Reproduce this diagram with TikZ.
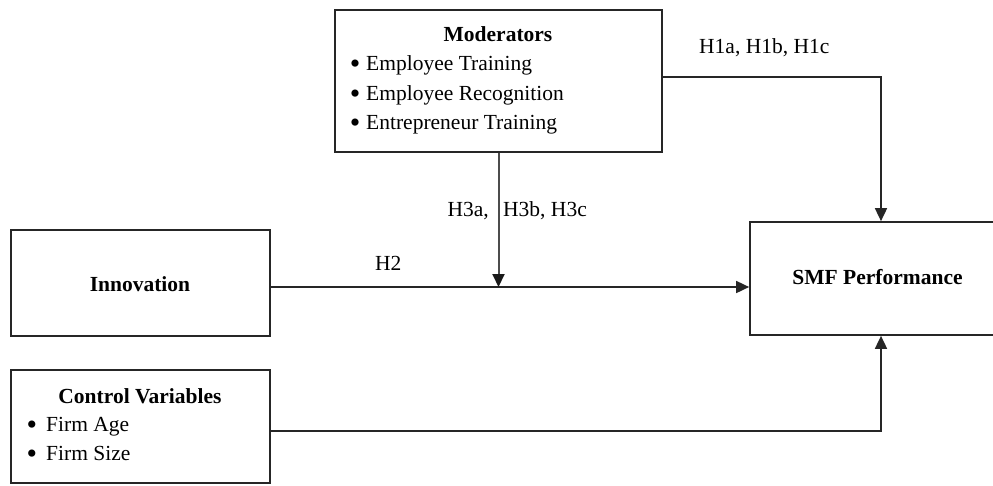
\documentclass[tikz,border=0pt]{standalone}
\usepackage{fontspec}
\setmainfont{Liberation Serif}
\usetikzlibrary{arrows.meta}
\newcommand{\bul}{\makebox[0pt][c]{\fontsize{30pt}{30pt}\selectfont\raisebox{-0.1em}{•}}}
\begin{document}
\begin{tikzpicture}[x=1pt,y=-1pt,
  box/.style={draw=black!85,line width=1.7pt,rectangle,inner sep=0pt},
  txt/.style={inner sep=0pt,font=\fontsize{21.5pt}{26pt}\selectfont},
  btxt/.style={txt,font=\fontsize{21.5pt}{26pt}\selectfont\bfseries},
  conn/.style={draw=black!85,line width=1.7pt,-{Triangle[length=13pt,width=12pt]}},
  thin/.style={draw=black!70,line width=2pt,-{Triangle[length=13pt,width=12pt,color=black!90]}},
  dot/.style={inner sep=0pt}]
\clip (0,0) rectangle (993,485);
\fill[white] (0,0) rectangle (993,485);
% boxes
\node[box,minimum width=327pt,minimum height=142pt] (mod) at (498.5,81) {};
\node[box,minimum width=259pt,minimum height=106pt] (inn) at (140.5,283) {};
\node[box,minimum width=259pt,minimum height=113pt] (ctl) at (140.5,426.5) {};
\node[box,minimum width=254pt,minimum height=113pt] (smf) at (877,278.5) {};
% texts
\node[btxt,anchor=base] (modt) at (498,41) {Moderators};
\node[dot,anchor=base] (b1) at (355,70) {\bul};
\node[dot,anchor=base] (b2) at (355,100) {\bul};
\node[dot,anchor=base] (b3) at (355,129) {\bul};
\node[txt,anchor=base west] (m1) at (366,70) {Employee Training};
\node[txt,anchor=base west] (m2) at (366,100) {Employee Recognition};
\node[txt,anchor=base west] (m3) at (366,129) {Entrepreneur Training};
\node[btxt] (innt) at (140,284) {Innovation};
\node[btxt,anchor=base] (ctlt) at (140,403) {Control Variables};
\node[dot,anchor=base] (b4) at (32,431) {\bul};
\node[dot,anchor=base] (b5) at (32,460) {\bul};
\node[txt,anchor=base west] (c1) at (46,431) {Firm Age};
\node[txt,anchor=base west] (c2) at (46,460) {Firm Size};
\node[btxt] (smft) at (877.5,277) {SMF Performance};
% labels
\node[txt,anchor=base west] (h1) at (699,53) {H1a, H1b, H1c};
\node[txt,anchor=base east] (h3l) at (489,216) {H3a,};
\node[txt,anchor=base west] (h3r) at (503,216) {H3b, H3c};
\node[txt,anchor=base west] (h2) at (375,270) {H2};
% connectors
\coordinate (ia) at (inn.east |- 0,287);
\coordinate (sa) at (smf.west |- 0,287);
\coordinate (j) at (mod.south |- 0,287);
\coordinate (h1c) at (881,77);
\coordinate (cc) at (881,431);
\draw[conn] (ia) -- (sa);
\draw[thin] (mod.south) -- (j);
\draw[conn] (mod.east |- h1c) -- (h1c) -- (h1c |- smf.north);
\draw[conn] (ctl.east |- cc) -- (cc) -- (cc |- smf.south);
\end{tikzpicture}
\end{document}
